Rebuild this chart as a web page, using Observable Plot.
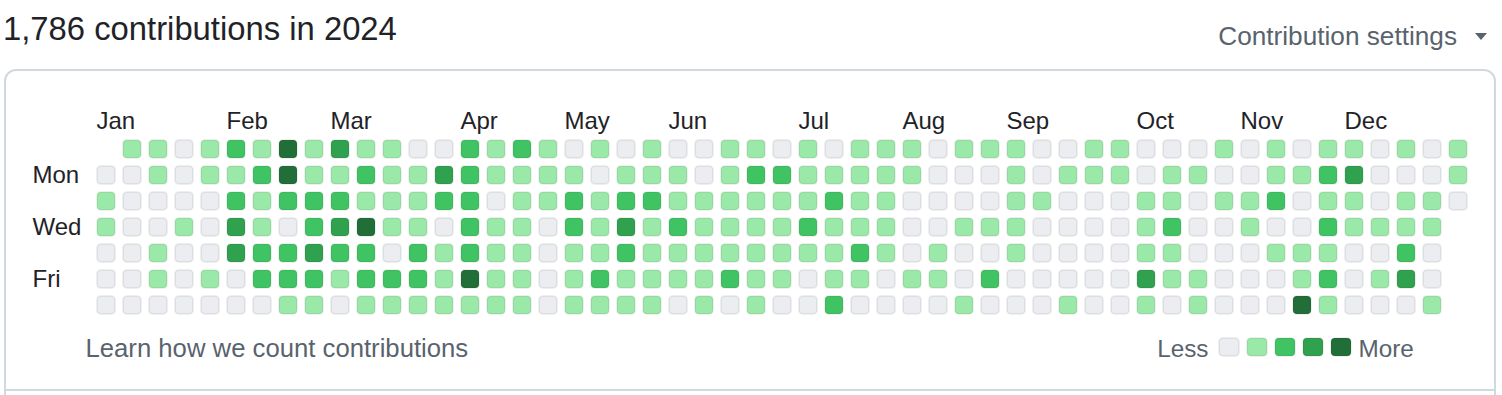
<!DOCTYPE html>
<html>
<head>
<meta charset="utf-8">
<script src="https://cdn.jsdelivr.net/npm/d3@7"></script>
<script src="https://cdn.jsdelivr.net/npm/@observablehq/plot@0.6"></script>
<style>
html, body { margin: 0; padding: 0; overflow: hidden; background: #fff; width: 1502px; height: 395px; }
body { position: relative; font-family: "Liberation Sans", Arial, sans-serif; }
#title { position: absolute; left: 3px; top: 13px; font-size: 32.8px; line-height: 32.8px; color: #1f2328; white-space: nowrap; }
#settings { position: absolute; right: 45px; top: 23px; font-size: 26.2px; line-height: 26.2px; color: #59636e; white-space: nowrap; }
#caret { position: absolute; left: 1475px; top: 33px; width: 0; height: 0; border-left: 6px solid transparent; border-right: 6px solid transparent; border-top: 7px solid #59636e; }
#box { position: absolute; left: 4px; top: 69px; width: 1492px; height: 360px; box-sizing: border-box; border: 2px solid #d1d9e0; border-radius: 12px; }
#rule { position: absolute; left: 4px; top: 389px; width: 1492px; height: 2px; background: #d1d9e0; }
#chart { position: absolute; left: 0; top: 70px; }
#legend { position: absolute; left: 1100px; top: 320px; }
</style>
</head>
<body>
<div id="title"></div>
<div id="settings"></div>
<div id="caret"></div>
<div id="box"></div>
<div id="rule"></div>
<div id="chart"></div>
<div id="legend"></div>
<script>
// ---- data ----
const titleText = "1,786 contributions in 2024";
const settingsText = "Contribution settings";
const footnote = "Learn how we count contributions";

// contribution level (0-4) per week column, one array per weekday row (null = no day)
const sun = [null,1,1,0,1,2,1,4,1, 3,1,1,0,0,2,1,2,1, 0,1,0,1,0,0,1,1,0, 1,0,1,1,1,0,1,1,1, 0,0,1,1,0,0,0,1, 0,1,0,1,1,0,1,0,1];
const mon = [0,0,1,0,1,1,2,4,1, 1,2,1,1,3,2,1,1,1, 1,0,1,1,1,0,1,2,2, 1,1,1,1,1,0,0,0,1, 0,1,1,1,0,1,1,0, 0,1,1,2,3,0,0,0,1];
const tue = [1,0,0,0,0,2,1,2,2, 2,1,1,1,2,2,0,1,1, 2,1,2,2,1,1,1,1,1, 1,2,1,1,0,0,0,0,1, 1,0,0,0,1,1,0,1, 1,2,0,1,1,0,1,1,0];
const wed = [1,0,0,1,0,3,1,0,2, 3,4,1,1,0,2,1,1,0, 2,1,3,1,2,1,1,1,1, 2,1,1,1,0,0,1,1,1, 0,0,0,0,1,2,0,0, 1,0,0,2,1,1,1,1,null];
const thu = [0,0,1,0,0,3,2,2,3, 2,2,0,2,1,2,1,1,0, 1,1,2,1,1,1,1,1,1, 1,1,2,1,0,1,0,0,1, 0,0,0,0,1,1,0,0, 0,1,1,1,0,0,2,0,null];
const fri = [0,0,1,0,1,0,2,2,2, 1,2,2,2,1,4,1,1,0, 1,2,1,1,1,1,2,1,1, 0,1,1,0,1,1,0,2,0, 0,0,0,0,3,1,1,0, 0,0,1,2,0,1,3,0,null];
const sat = [0,0,0,0,0,0,0,1,1, 0,1,1,1,1,1,1,1,0, 1,1,1,1,0,1,0,1,0, 0,2,0,0,0,0,1,0,0, 0,1,0,0,1,0,1,0, 0,0,4,1,0,0,0,1,null];
const weekRows = [sun, mon, tue, wed, thu, fri, sat];

const monthLabels = ["Jan","Feb","Mar","Apr","May","Jun","Jul","Aug","Sep","Oct","Nov","Dec"];
const monthCols   = [0, 5, 9, 14, 18, 22, 27, 31, 35, 40, 44, 48];
const dayLabels = ["Mon", "Wed", "Fri"];
const dayRows   = [1, 3, 5];

const levels  = [0, 1, 2, 3, 4];
const palette = ["#ebedf0", "#9be9a8", "#40c463", "#30a14e", "#216e39"];
const legendLabels = ["Less", "More"];
const legendPos    = [0, 5];

// ---- build ----
document.getElementById("title").textContent = titleText;
document.getElementById("settings").textContent = settingsText;

const cells = [];
weekRows.forEach((arr, row) => arr.forEach((level, col) => {
  if (level != null) cells.push({col, row, level});
}));

const font = '"Liberation Sans", Arial, sans-serif';

const chart = Plot.plot({
  width: 1502, height: 325, margin: 0,
  x: {type: "linear", domain: [0, 53], range: [96, 1474], axis: null},
  y: {type: "linear", domain: [0, 7], range: [69, 251], axis: null},
  style: {background: "transparent", fontFamily: font, overflow: "visible"},
  marks: [
    Plot.rect(cells, {
      x1: "col", x2: d => d.col + 1, y1: "row", y2: d => d.row + 1,
      insetLeft: 1, insetTop: 1, insetRight: 7, insetBottom: 7, rx: 4,
      fill: d => palette[d.level], stroke: "#1f2328", strokeOpacity: 0.07, strokeWidth: 2
    }),
    Plot.text(monthLabels, {x: monthCols, frameAnchor: "top", dy: 58, lineAnchor: "bottom",
      textAnchor: "start", fontSize: 24, fill: "#1f2328"}),
    Plot.text(dayLabels, {y: dayRows, dy: 10, frameAnchor: "left", dx: 32, textAnchor: "start",
      lineAnchor: "middle", fontSize: 24, fill: "#1f2328"}),
    Plot.text([footnote], {frameAnchor: "top-left", dx: 85, dy: 286, lineAnchor: "bottom",
      textAnchor: "start", fontSize: 25.7, fill: "#59636e"})
  ]
});
document.getElementById("chart").appendChild(chart);

const legend = Plot.plot({
  width: 402, height: 75, marginTop: 17, marginBottom: 38, marginLeft: 0, marginRight: 0,
  x: {type: "linear", domain: [0, 5], range: [118, 258], axis: null},
  style: {background: "transparent", fontFamily: font, overflow: "visible"},
  marks: [
    Plot.rect(levels, {x1: d => d, x2: d => d + 1, insetLeft: 1, insetRight: 7, insetTop: 1, insetBottom: 1, rx: 4,
      fill: d => palette[d], stroke: "#1f2328", strokeOpacity: 0.07, strokeWidth: 2}),
    Plot.text(legendLabels, {x: legendPos, frameAnchor: "bottom", lineAnchor: "bottom", dy: -1,
      textAnchor: "start", fontSize: 24.3, fill: "#59636e"})
  ]
});
document.getElementById("legend").appendChild(legend);
// "Less" ends just before the first swatch
d3.select(legend).selectAll("text").filter(function() { return this.textContent === "Less"; })
  .attr("text-anchor", "end").attr("dx", -10);
</script>
</body>
</html>
